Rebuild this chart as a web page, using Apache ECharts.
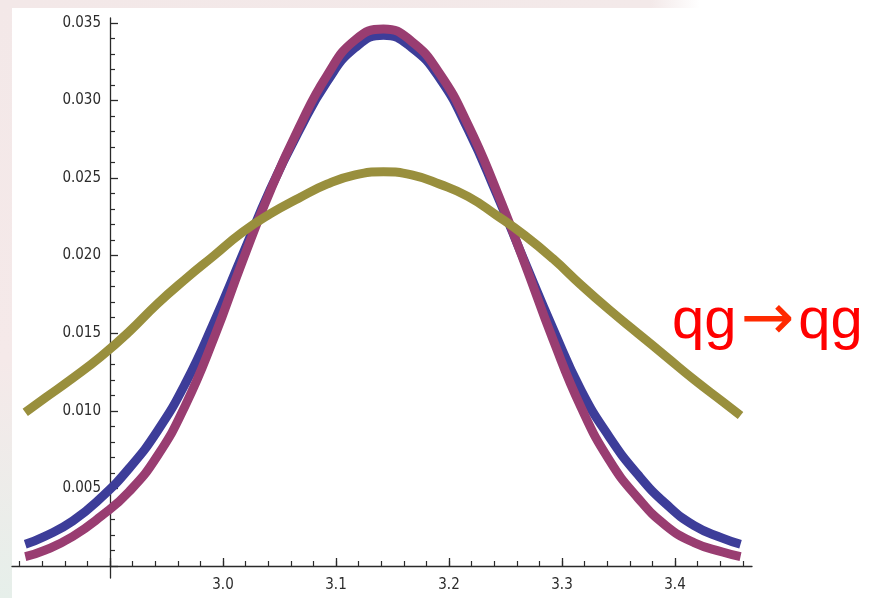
<!DOCTYPE html>
<html>
<head>
<meta charset="utf-8">
<script src="https://cdn.jsdelivr.net/npm/echarts@6/dist/echarts.min.js"></script>
<style>
html,body{margin:0;padding:0;background:#ffffff;}
#chart{width:886px;height:598px;}
</style>
</head>
<body>
<div id="chart"></div>
<script>
// ---- data ----
const xValues      = [2.825, 2.842, 2.867, 2.892, 2.917, 2.942, 2.967, 2.992, 3.017, 3.042, 3.067, 3.092, 3.117, 3.142, 3.167, 3.192, 3.217, 3.242, 3.267, 3.292, 3.317, 3.342, 3.367, 3.392, 3.417, 3.442, 3.458];
const blueValues   = [0.0014, 0.0019, 0.0029, 0.0044, 0.0063, 0.0087, 0.0118, 0.0157, 0.0200, 0.0243, 0.0280, 0.0312, 0.0334, 0.0342, 0.0334, 0.0314, 0.0281, 0.0240, 0.0196, 0.0153, 0.0113, 0.0083, 0.0059, 0.0040, 0.0026, 0.0018, 0.0014];
const maroonValues = [0.0006, 0.0010, 0.0019, 0.0032, 0.0048, 0.0071, 0.0104, 0.0147, 0.0196, 0.0242, 0.0282, 0.0316, 0.0339, 0.0346, 0.0338, 0.0317, 0.0284, 0.0242, 0.0195, 0.0146, 0.0102, 0.0068, 0.0044, 0.0026, 0.0015, 0.0009, 0.0006];
const oliveValues  = [0.0099, 0.0108, 0.0121, 0.0135, 0.0151, 0.0169, 0.0185, 0.0200, 0.0215, 0.0227, 0.0237, 0.0246, 0.0252, 0.0254, 0.0252, 0.0246, 0.0238, 0.0226, 0.0213, 0.0198, 0.0181, 0.0165, 0.0150, 0.0135, 0.0120, 0.0106, 0.0097];

const seriesNames  = ['blue', 'maroon', 'olive'];
const seriesColors = ['#3d3d99', '#993d71', '#998f3d'];

// axis tick settings
const xMajorRange = [2.9, 3.4], xMajorStep = 0.1;
const xMinorRange = [2.82, 3.46], xMinorStep = 0.02;
const yMajorRange = [0, 0.035], yMajorStep = 0.005;
const xTickLabels = ['3.0', '3.1', '3.2', '3.3', '3.4'];
const yTickLabels = ['0.005', '0.010', '0.015', '0.020', '0.025', '0.030', '0.035'];
const annotation = {left: 'qg', arrow: '\u2192', right: 'qg'};

// ---- layout (pixel geometry of the frame) ----
const SX = 1130;          // px per x unit
const SY = 15520;         // px per y unit
const X_ORIGIN = 2.9;     // x where the vertical axis sits
const X_ORIGIN_PX = 110;
const Y_ZERO_PX = 566;
const FRAME_L = 12, FRAME_R = 752, FRAME_T = 18, FRAME_B = 578;

const X0 = X_ORIGIN - (X_ORIGIN_PX - FRAME_L) / SX;
const X1 = X_ORIGIN + (FRAME_R - X_ORIGIN_PX) / SX;
const Y1 = (Y_ZERO_PX - FRAME_T) / SY;
const Y0 = -(FRAME_B - Y_ZERO_PX) / SY;
const xpx = x => X_ORIGIN_PX + (x - X_ORIGIN) * SX;
const ypx = y => Y_ZERO_PX - y * SY;

const AXIS_COLOR = '#2a2a2a';
const LABEL_FONT = "'DejaVu Sans Condensed', 'DejaVu Sans', sans-serif";

const fmtLabel = (labels, first, step) => v => {
  const i = Math.round((v - first) / step) - 1;
  return (i >= 0 && i < labels.length) ? labels[i] : '';
};

const hiddenAxis = (gi, min, max) => ({gridIndex: gi, type: 'value', min, max, show: false});

const option = {
  animation: false,
  backgroundColor: '#ffffff',
  graphic: [
    {type: 'rect', left: 0, top: 0, shape: {width: 700, height: 8}, silent: true, z: -10,
     style: {fill: new echarts.graphic.LinearGradient(0, 0, 1, 0, [
       {offset: 0, color: '#f3e8e8'}, {offset: 0.93, color: '#f3e9e9'}, {offset: 1, color: '#ffffff'}])}},
    {type: 'rect', left: 0, top: 0, shape: {width: 12, height: 598}, silent: true, z: -10,
     style: {fill: new echarts.graphic.LinearGradient(0, 0, 0, 1, [
       {offset: 0, color: '#f3e8e8'}, {offset: 0.6, color: '#f5e9e9'}, {offset: 1, color: '#e6efea'}])}},
    {type: 'text', left: 672, top: 290, silent: true, z: 10,
     style: {
       text: '{q|' + annotation.left + '}{a|' + annotation.arrow + '}{q|' + annotation.right + '}',
       rich: {
         q: {fontSize: 58, fontFamily: "'Liberation Sans', Arial, sans-serif", fill: '#ff0000', lineHeight: 66},
         a: {fontSize: 64, fontFamily: "'DejaVu Sans', sans-serif", fill: '#ff2a00', lineHeight: 66, padding: [0, 4, 0, 4]}
       }
     }}
  ],
  grid: [
    {left: FRAME_L, top: FRAME_T, width: FRAME_R - FRAME_L, height: FRAME_B - FRAME_T},
    {left: X_ORIGIN_PX, top: FRAME_T, width: 10, height: FRAME_B - FRAME_T},
    {left: X_ORIGIN_PX, top: ypx(yMajorRange[1]), width: 10, height: (yMajorRange[1] - yMajorRange[0]) * SY},
    {left: xpx(xMajorRange[0]), top: Y_ZERO_PX - 100, width: (xMajorRange[1] - xMajorRange[0]) * SX, height: 100},
    {left: xpx(xMinorRange[0]), top: Y_ZERO_PX - 100, width: (xMinorRange[1] - xMinorRange[0]) * SX, height: 100}
  ],
  xAxis: [
    {gridIndex: 0, type: 'value', min: X0, max: X1,
     axisLine: {show: true, onZero: true, lineStyle: {color: AXIS_COLOR, width: 1.3}},
     axisTick: {show: false}, axisLabel: {show: false}, splitLine: {show: false}},
    hiddenAxis(1, 0, 1),
    hiddenAxis(2, 0, 1),
    {gridIndex: 3, type: 'value', min: xMajorRange[0], max: xMajorRange[1], interval: xMajorStep, position: 'bottom',
     axisLine: {show: false, onZero: false},
     axisTick: {show: true, inside: true, length: 8, lineStyle: {color: AXIS_COLOR, width: 1.3}},
     axisLabel: {show: true, margin: 12, color: '#2b2b2b', fontSize: 15, fontFamily: LABEL_FONT,
                 formatter: fmtLabel(xTickLabels, xMajorRange[0], xMajorStep)},
     splitLine: {show: false}},
    {gridIndex: 4, type: 'value', min: xMinorRange[0], max: xMinorRange[1], interval: xMinorStep, position: 'bottom',
     axisLine: {show: false, onZero: false},
     axisTick: {show: true, inside: true, length: 5, lineStyle: {color: AXIS_COLOR, width: 1.2}},
     axisLabel: {show: false}, splitLine: {show: false}}
  ],
  yAxis: [
    hiddenAxis(0, Y0, Y1),
    {gridIndex: 1, type: 'value', min: Y0, max: Y1, position: 'left',
     axisLine: {show: true, onZero: false, lineStyle: {color: AXIS_COLOR, width: 1.3}},
     axisTick: {show: false}, axisLabel: {show: false}, splitLine: {show: false}},
    {gridIndex: 2, type: 'value', min: yMajorRange[0], max: yMajorRange[1], interval: yMajorStep, position: 'left',
     axisLine: {show: false, onZero: false},
     axisTick: {show: true, inside: true, length: 8, lineStyle: {color: AXIS_COLOR, width: 1.3}},
     minorTick: {show: true, splitNumber: 5, length: 5, lineStyle: {color: AXIS_COLOR, width: 1.2}},
     axisLabel: {show: true, margin: 9, color: '#2b2b2b', fontSize: 15, fontFamily: LABEL_FONT,
                 formatter: fmtLabel(yTickLabels, yMajorRange[0], yMajorStep)},
     splitLine: {show: false}},
    hiddenAxis(3, 0, 1),
    hiddenAxis(4, 0, 1)
  ],
  series: [blueValues, maroonValues, oliveValues].map((vals, i) => ({
    name: seriesNames[i],
    type: 'line',
    xAxisIndex: 0, yAxisIndex: 0,
    data: xValues.map((x, j) => [x, vals[j]]),
    smooth: 0.5,
    showSymbol: false,
    symbol: 'none',
    z: 2 + i,
    lineStyle: {color: seriesColors[i], width: 9, cap: 'butt', join: 'round'}
  }))
};

const chart = echarts.init(document.getElementById('chart'), null, {renderer: 'canvas'});
chart.setOption(option);
</script>
</body>
</html>
